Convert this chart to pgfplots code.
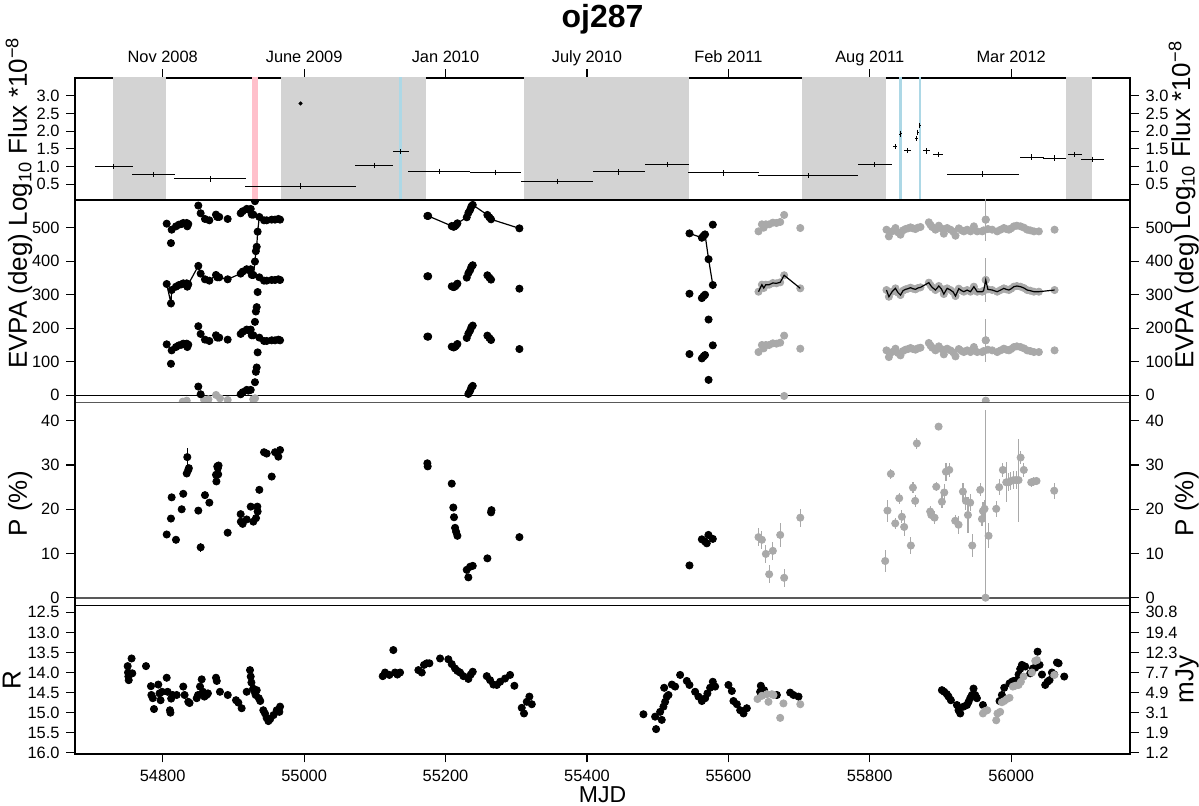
\documentclass[border=0pt]{standalone}
\usepackage{fontspec}
\setmainfont{Liberation Sans}
\usepackage{pgfplots}
\usepackage{pgfplotstable}
\pgfplotsset{compat=1.18}

\definecolor{bandgray}{HTML}{D3D3D3}
\definecolor{bandpink}{HTML}{FFC0CB}
\definecolor{bandblue}{HTML}{ADD8E6}
\definecolor{ptgray}{HTML}{A9A9A9}
\definecolor{refgray}{HTML}{595959}

\newcommand\tickfont{\fontsize{8.2}{9.5}\selectfont}

% gamma-ray flux bins: centre MJD, flux, half width
\pgfplotstableread{
m f e
54731 1.00 27
54787 0.78 31
54867 0.65 51
54995 0.45 78
55099 1.04 27
55137 1.42 11
55191 0.87 44
55271 0.84 36
55358 0.59 51
55445 0.85 37
55513.5 1.06 31
55593 0.82 50
55713 0.74 71
55807 1.05 24
55836 1.56 3
55843 1.90 1
55844 1.94 1
55853 1.45 5
55866 1.79 1.5
55868 1.97 1
55871 2.15 1
55880 1.44 5
55897 1.35 7
55960 0.79 51
56029 1.27 17
56061.5 1.24 16
56090 1.34 10
56115 1.21 16
}\flux

% EVPA, black data (chosen branch)
\pgfplotstableread{
m e
54805.7 332
54811.7 274
54812.7 314
54818.8 324
54823.0 329
54826.9 331
54829.1 334
54834.0 334
54834.8 324
54836.2 331
54850.4 386
54853.7 363
54859.8 346
54866.0 342
54875.4 359
54877.2 352
54880.0 352
54891.9 346
54910.3 363
54913.1 369
54918.8 376
54921.0 374
54924.5 376
54926.0 359
54928.2 359
54930.5 399
54931.8 430
54933.0 443
54934.3 488
54936.7 532
54943.3 522
54947.1 522
54954.2 524
54958.9 524
54963.6 526
54966.0 524
55174.3 535
55175.5 535
55208.8 505
55211.0 503
55212.0 503
55213.5 505
55215.0 508
55216.8 513
55230.0 531
55232.3 544
55234.7 553
55236.5 563
55238.5 568
55259.2 538
55262.0 531
55264.4 525
55304.5 498
55545.0 483
55562.5 470
55565.0 476
55567.0 480
55572.0 406
55578.0 329
}\evb

% EVPA, grey data
\pgfplotstableread{
m e
55642.6 309
55647.4 330
55650.0 320
55653.0 330
55657.7 330
55662.9 335
55668.0 334
55673.3 337
55678.9 358
55701.7 319
55823.6 314
55827.0 294
55831.6 309
55836.3 319
55840.0 306
55843.4 299
55847.0 312
55850.5 316
55854.0 318
55857.6 321
55861.0 318
55864.6 316
55868.0 320
55871.7 322
55883.5 336
55886.0 328
55888.2 322
55892.9 314
55897.6 326
55901.0 318
55904.7 302
55909.4 319
55914.1 314
55918.0 308
55921.2 296
55925.9 318
55930.0 312
55933.0 309
55937.7 314
55942.4 309
55947.2 324
55951.9 309
55959.0 309
55961.0 312
55964.0 344
55967.0 316
55973.1 314
55980.2 309
55985.0 314
55989.6 319
55993.0 316
55996.7 314
56000.0 318
56003.8 324
56008.0 326
56013.2 324
56018.0 320
56022.6 314
56027.0 312
56032.1 309
56039.1 309
56061.3 314
}\evg

% EVPA, grey data of the first season (only the low branch shows)
\pgfplotstableread{
m e
54805.7 -24
54828.4 -19
54834.0 -16
54858.6 -14
54864.7 -12
54875.5 1
54881.0 -9
54891.9 -14
54928.0 -12
54930.6 -9
}\evgn

% polarisation degree, black
\pgfplotstableread{
m p e
54805.7 14.3 0.5
54811.7 17.9 0.5
54812.7 22.7 0.5
54818.8 13.1 0.5
54826.9 20.0 0.5
54829.1 23.5 0.5
54834.0 28.1 0.5
54834.8 31.8 2.0
54836.2 28.9 0.5
54837.0 29.3 0.5
54850.4 19.7 0.5
54853.7 11.4 1.0
54859.8 23.2 0.5
54866.0 21.5 0.5
54875.4 27.8 0.5
54876.0 26.3 0.5
54877.2 29.7 0.5
54878.0 29.3 0.5
54878.5 27.9 0.5
54879.0 29.9 0.5
54891.9 14.7 0.5
54910.3 18.9 0.5
54910.5 17.2 0.5
54913.1 16.7 0.5
54918.8 17.7 0.5
54924.5 20.6 0.5
54928.2 17.2 0.5
54932.0 18.0 0.5
54933.9 20.6 0.5
54934.3 19.5 0.5
54936.7 24.4 0.5
54943.3 32.9 0.5
54947.1 32.6 0.5
54954.2 27.4 0.5
54958.9 32.9 0.5
54963.6 31.9 0.5
54966.0 33.4 0.5
55174.3 30.4 0.5
55174.8 29.7 0.5
55208.8 25.8 0.5
55211.0 20.4 0.5
55212.0 18.2 0.5
55213.5 15.8 0.5
55215.0 14.9 0.5
55216.8 14.0 0.5
55230.0 6.3 0.5
55232.3 4.6 0.5
55234.7 7.0 0.5
55238.5 7.2 0.5
55259.2 8.9 0.5
55264.4 19.3 0.5
55265.0 19.8 0.5
55304.5 13.7 0.5
55545.0 7.3 0.5
55562.5 13.2 0.5
55567.0 12.7 0.5
55569.5 12.3 0.5
55571.8 14.2 0.5
55578.0 13.3 0.5
}\pb

% polarisation degree, grey
\pgfplotstableread{
m p e
55642.6 13.7 2.0
55647.4 13.1 2.0
55653.0 9.9 2.0
55657.7 5.3 2.0
55662.9 10.6 2.0
55673.3 14.2 2.8
55678.9 4.5 2.0
55701.7 18.1 2.0
55821.8 8.3 2.4
55825.0 19.7 2.5
55829.8 28.0 1.2
55836.0 16.8 1.3
55841.6 22.5 1.2
55845.4 18.3 1.5
55848.6 16.0 2.0
55858.1 11.8 2.0
55861.0 24.9 1.3
55864.2 21.9 1.3
55866.6 34.9 1.2
55885.4 19.5 1.2
55887.0 18.7 1.2
55891.6 18.1 1.5
55894.0 25.1 1.0
55897.3 38.7 0.6
55902.0 21.7 1.5
55905.3 23.8 2.0
55907.7 28.5 2.0
55912.4 28.9 1.5
55920.8 17.4 1.3
55925.5 16.5 2.0
55931.7 24.0 2.0
55935.9 21.9 2.0
55938.8 18.7 4.0
55942.0 21.5 2.0
55944.9 11.8 2.7
55956.2 24.4 1.5
55958.6 17.8 1.5
55960.0 19.6 2.0
55962.3 20.1 2.0
55968.0 14.0 2.8
55978.8 20.1 1.8
55983.0 25.0 1.8
55988.2 28.9 1.5
55993.0 26.1 4.5
55996.2 26.1 2.0
55999.5 26.4 2.0
56003.3 26.6 2.0
56007.1 26.6 2.0
56010.4 26.6 9.4
56013.3 31.7 1.5
56017.8 28.9 1.5
56028.3 26.1 1.0
56032.0 26.3 1.0
56035.8 26.4 1.0
56060.8 24.2 1.8
}\pg

% R magnitude, black
\pgfplotstableread{
m r
54750.5 13.84
54751.0 14.00
54751.5 14.10
54752.0 14.19
54756.0 13.65
54757.0 14.02
54776.4 13.84
54783.4 14.34
54784.0 14.56
54786.0 14.64
54787.7 14.91
54793.8 14.30
54795.5 14.52
54797.0 14.69
54799.0 14.48
54805.7 14.13
54807.0 14.48
54810.3 14.94
54811.0 15.00
54812.0 14.65
54814.0 14.56
54819.8 14.56
54829.1 14.35
54831.0 14.56
54836.2 14.73
54838.0 14.76
54848.1 14.64
54850.0 14.56
54852.8 14.35
54855.2 14.17
54857.0 14.48
54859.0 14.60
54862.0 14.56
54864.0 14.52
54875.4 14.13
54876.5 14.21
54881.0 14.48
54892.0 14.56
54903.7 14.69
54907.0 14.75
54911.7 14.89
54918.8 14.48
54923.5 13.94
54924.5 14.10
54925.5 14.25
54928.0 14.40
54930.0 14.48
54931.5 14.56
54933.0 14.44
54936.0 14.64
54938.0 14.71
54942.3 14.94
54944.7 15.02
54947.0 15.13
54949.5 15.21
54952.0 15.16
54956.8 15.06
54961.3 14.94
54965.0 14.98
54966.0 14.85
55111.2 14.09
55114.5 14.00
55120.6 14.06
55126.2 13.44
55128.6 14.00
55131.9 14.05
55135.7 14.00
55161.6 13.94
55166.4 14.00
55169.6 13.81
55173.5 13.77
55177.2 13.77
55192.3 13.65
55204.0 13.67
55208.8 13.79
55213.5 13.90
55216.8 13.96
55220.6 14.00
55225.3 14.09
55232.3 14.16
55235.7 14.05
55238.5 13.98
55258.3 14.09
55263.0 14.19
55267.7 14.30
55272.5 14.31
55277.2 14.23
55284.2 14.15
55291.3 14.06
55297.4 14.33
55307.8 14.88
55311.0 15.02
55314.9 14.73
55318.6 14.60
55322.0 14.79
55479.9 15.04
55496.4 15.10
55497.8 15.41
55503.5 14.98
55505.8 15.18
55508.2 14.85
55509.2 14.38
55510.6 14.73
55513.0 14.60
55515.3 14.56
55520.1 14.30
55524.7 14.35
55531.8 14.06
55541.2 14.21
55545.0 14.31
55553.0 14.48
55557.7 14.60
55562.5 14.71
55567.2 14.64
55570.4 14.52
55574.2 14.38
55578.0 14.23
55581.3 14.35
55600.1 14.31
55604.9 14.46
55607.2 14.71
55612.0 14.79
55616.7 14.94
55621.4 15.02
55626.1 14.89
55644.9 14.48
55645.9 14.33
55650.6 14.44
55668.6 14.56
55687.4 14.50
55692.1 14.56
55699.2 14.60
55902.0 14.44
55905.3 14.48
55909.0 14.54
55911.4 14.60
55914.7 14.69
55923.2 14.81
55925.5 14.94
55927.9 15.02
55932.6 14.85
55937.4 14.81
55939.7 14.73
55942.0 14.64
55944.4 14.56
55946.7 14.40
55949.1 14.56
55951.5 14.64
55960.0 14.81
55983.5 14.71
55986.8 14.56
55990.1 14.38
55997.6 14.27
56000.9 14.23
56003.3 14.21
56008.0 14.19
56010.4 14.05
56012.7 13.91
56015.1 13.81
56019.8 13.85
56026.9 14.02
56030.7 13.90
56034.0 13.88
56037.3 13.48
56040.1 13.81
56043.5 14.05
56048.1 14.31
56051.4 14.23
56054.2 14.19
56057.6 14.00
56060.9 14.05
56064.7 13.75
56067.0 13.77
56075.0 14.10
}\rb

% R magnitude, grey
\pgfplotstableread{
m r
55641.2 14.66
55647.4 14.58
55654.4 14.54
55656.7 14.73
55661.5 14.54
55663.8 14.56
55673.3 15.13
55677.9 14.77
55701.7 14.79
55960.0 15.02
55962.8 14.96
55966.1 14.94
55978.8 15.19
55980.6 15.02
55984.4 14.98
55986.8 14.74
55990.1 14.71
55993.9 14.66
55997.6 14.63
56002.3 14.35
56005.6 14.33
56010.4 14.31
56013.7 14.23
56017.5 14.10
56029.3 14.00
56034.0 13.71
56036.4 13.69
56060.9 14.06
}\rg

\pgfplotsset{
  panel/.style={
    scale only axis, width=527.5pt,
    xmin=54676, xmax=56168,
    xtick={54800,55000,55200,55400,55600,55800,56000},
    scaled ticks=false,
    clip marker paths=true,
    tick align=outside, major tick length=4.25pt,
    axis line style={line width=0.6pt},
    every tick/.append style={line width=0.6pt, black},
    ytick pos=both, yticklabel pos=left,
    tick label style={font=\tickfont},
    /pgf/number format/assume math mode=true,
    /pgf/number format/1000 sep={},
    ylabel style={font=\fontsize{13}{15}\selectfont, at={(axis description cs:-0.0455,0.5)}, anchor=base},
    xlabel style={font=\fontsize{11.5}{13}\selectfont, yshift=4pt},
  },
  rpanel/.style={
    scale only axis, width=527.5pt,
    xmin=54676, xmax=56168,
    hide x axis,
    tick align=outside, major tick length=4.25pt,
    axis line style={line width=0.6pt},
    every tick/.append style={line width=0.6pt, black},
    ytick pos=right, yticklabel pos=right,
    tick label style={font=\tickfont},
    /pgf/number format/assume math mode=true,
    ylabel style={font=\fontsize{13}{15}\selectfont, at={(axis description cs:1.06,0.5)}, anchor=base},
  },
  bpts/.style={only marks, mark=*, mark size=1.8pt, color=black},
  gpts/.style={only marks, mark=*, mark size=1.8pt, color=ptgray},
  evline/.style={black, line width=0.6pt, no marks},
}

\begin{document}
\begin{tikzpicture}
\useasboundingbox (-37.5pt,39pt) rectangle (562pt,-364pt);

% ---------------- flux panel
\begin{axis}[panel, at={(0pt,0pt)}, anchor=north west, height=61pt,
  ymin=0.058, ymax=3.498, ytick={0.5,1.0,1.5,2.0,2.5,3.0},
  yticklabel style={/pgf/number format/.cd,fixed,fixed zerofill,precision=1},
  xtick pos=right, xticklabel pos=right,
  xticklabels={Nov 2008,June 2009,Jan 2010,July 2010,Feb 2011,Aug 2011,Mar 2012},
  xticklabel style={text depth=0pt, inner sep=3.3pt},
  ylabel={Log\textsubscript{10} Flux *10\textsuperscript{−8}},
  ylabel style={at={(axis description cs:-0.0455,0.56)}},
  title={oj287},
  title style={font=\bfseries\fontsize{16}{19}\selectfont, at={(axis description cs:0.5,1)}, anchor=base, yshift=19pt}]
\addplot[draw=none, fill=bandgray] coordinates {(54730,-1) (54805,-1) (54805,5) (54730,5)} -- cycle;
\addplot[draw=none, fill=bandgray] coordinates {(54967,-1) (55172,-1) (55172,5) (54967,5)} -- cycle;
\addplot[draw=none, fill=bandgray] coordinates {(55311.5,-1) (55544,-1) (55544,5) (55311.5,5)} -- cycle;
\addplot[draw=none, fill=bandgray] coordinates {(55704,-1) (55823,-1) (55823,5) (55704,5)} -- cycle;
\addplot[draw=none, fill=bandgray] coordinates {(56078,-1) (56114,-1) (56114,5) (56078,5)} -- cycle;
\addplot[draw=none, fill=bandpink] coordinates {(54926,-1) (54935,-1) (54935,5) (54926,5)} -- cycle;
\addplot[draw=none, fill=bandblue] coordinates {(55134,-1) (55139,-1) (55139,5) (55134,5)} -- cycle;
\addplot[draw=none, fill=bandblue] coordinates {(55841,-1) (55846,-1) (55846,5) (55841,5)} -- cycle;
\addplot[draw=none, fill=bandblue] coordinates {(55869,-1) (55873,-1) (55873,5) (55869,5)} -- cycle;
\addplot[only marks, mark=|, mark size=1.3pt, mark options={line width=0.5pt}, black,
  error bars/.cd, x dir=both, x explicit, error mark=none,
  error bar style={line width=0.5pt, black}]
  table[x=m, y=f, x error=e] {\flux};
\addplot[only marks, mark=*, mark size=0.8pt, black] coordinates {(54995,2.78)};
\end{axis}
\begin{axis}[rpanel, at={(0pt,0pt)}, anchor=north west, height=61pt,
  ymin=0.058, ymax=3.498, ytick={0.5,1.0,1.5,2.0,2.5,3.0},
  yticklabel style={/pgf/number format/.cd,fixed,fixed zerofill,precision=1},
  ylabel={Log\textsubscript{10} Flux *10\textsuperscript{−8}},
  ylabel style={at={(axis description cs:1.057,0.53)}}]
\end{axis}

% ---------------- EVPA panel
\begin{axis}[panel, at={(0pt,-61pt)}, anchor=north west, height=101.15pt,
  ymin=-20.9, ymax=582.6, ytick={0,100,200,300,400,500}, xtick=\empty,
  ylabel={EVPA (deg)},
  extra y ticks={0}, extra y tick labels={}, extra y tick style={grid=major},
  major grid style={black, line width=0.5pt}]
\addplot[gpts] table[x=m, y=e] {\evgn};
\addplot[gpts, restrict y to domain=-25:600] table[x=m, y expr=\thisrow{e}-360] {\evg};
\addplot[gpts, restrict y to domain=-25:600] table[x=m, y expr=\thisrow{e}-180] {\evg};
\addplot[gpts, restrict y to domain=-25:600] table[x=m, y=e] {\evg};
\addplot[gpts, restrict y to domain=-25:600] table[x=m, y expr=\thisrow{e}+180] {\evg};
\addplot[gpts, error bars/.cd, y dir=both, y explicit, error mark=none,
  error bar style={ptgray, line width=0.6pt}]
  coordinates {(55964,164) +- (0,65) (55964,344) +- (0,65) (55964,524) +- (0,65)};
\addplot[bpts, restrict y to domain=0:600] table[x=m, y expr=\thisrow{e}-540] {\evb};
\addplot[bpts, restrict y to domain=0:600] table[x=m, y expr=\thisrow{e}-360] {\evb};
\addplot[bpts, restrict y to domain=0:600] table[x=m, y expr=\thisrow{e}-180] {\evb};
\addplot[bpts, restrict y to domain=0:600] table[x=m, y=e] {\evb};
\addplot[bpts, restrict y to domain=0:600] table[x=m, y expr=\thisrow{e}+180] {\evb};
\addplot[evline, restrict x to domain=54700:55000] table[x=m, y=e] {\evb};
\addplot[evline, restrict x to domain=55100:55400] table[x=m, y=e] {\evb};
\addplot[evline, restrict x to domain=55500:55600] table[x=m, y=e] {\evb};
\addplot[evline, restrict x to domain=55600:55750] table[x=m, y=e] {\evg};
\addplot[evline, restrict x to domain=55800:56100] table[x=m, y=e] {\evg};
\end{axis}
\begin{axis}[rpanel, at={(0pt,-61pt)}, anchor=north west, height=101.15pt,
  ymin=-20.9, ymax=582.6, ytick={0,100,200,300,400,500},
  ylabel={EVPA (deg)}]
\end{axis}

% ---------------- polarisation degree panel
\begin{axis}[panel, at={(0pt,-162.15pt)}, anchor=north west, height=101.5pt,
  ymin=-1.72, ymax=44.2, ytick={0,10,20,30,40}, xtick=\empty,
  ylabel={P (\%)},
  extra y ticks={0}, extra y tick labels={}, extra y tick style={grid=major},
  major grid style={refgray, line width=1pt}]
\draw[refgray, line width=1pt] (rel axis cs:0,1) -- (rel axis cs:1,1);
\addplot[gpts, error bars/.cd, y dir=both, y explicit, error mark=none,
  error bar style={ptgray, line width=0.6pt}]
  table[x=m, y=p, y error=e] {\pg};
\addplot[gpts, error bars/.cd, y dir=plus, y explicit, error mark=none,
  error bar style={ptgray, line width=0.6pt}]
  coordinates {(55963.7,0) +- (0,42.5)};
\addplot[bpts, error bars/.cd, y dir=both, y explicit, error mark=none,
  error bar style={black, line width=0.6pt}]
  table[x=m, y=p, y error=e] {\pb};
\end{axis}
\begin{axis}[rpanel, at={(0pt,-162.15pt)}, anchor=north west, height=101.5pt,
  ymin=-1.72, ymax=44.2, ytick={0,10,20,30,40},
  ylabel={P (\%)}]
\end{axis}

% ---------------- R magnitude panel
\begin{axis}[panel, at={(0pt,-263.65pt)}, anchor=north west, height=74.35pt,
  y dir=reverse, ymin=12.325, ymax=16.03,
  ytick={12.5,13.0,13.5,14.0,14.5,15.0,15.5,16.0},
  yticklabel style={/pgf/number format/.cd,fixed,fixed zerofill,precision=1},
  xtick pos=left, xticklabel pos=left,
  xlabel={MJD}, ylabel={R},
  ylabel style={at={(axis description cs:-0.0515,0.5)}}]
\addplot[bpts] table[x=m, y=r] {\rb};
\addplot[gpts] table[x=m, y=r] {\rg};
\end{axis}
\begin{axis}[rpanel, at={(0pt,-263.65pt)}, anchor=north west, height=74.35pt,
  y dir=reverse, ymin=12.325, ymax=16.03,
  ytick={12.5,13.0,13.5,14.0,14.5,15.0,15.5,16.0},
  yticklabels={30.8,19.4,12.3,7.7,4.9,3.1,1.9,1.2},
  ylabel={mJy}]
\end{axis}
\end{tikzpicture}
\end{document}
